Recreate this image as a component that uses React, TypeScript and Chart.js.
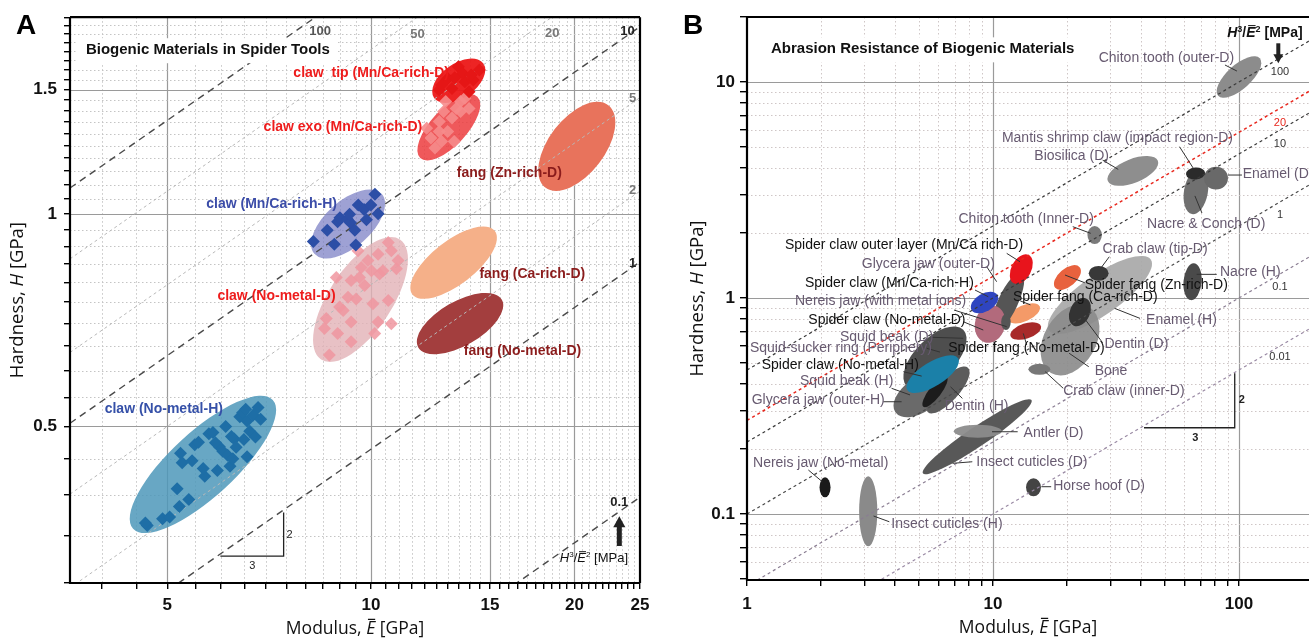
import { useEffect, useRef } from 'react';
import { Chart, registerables } from 'chart.js';

Chart.register(...registerables);

type Pt = [number, number];
type Ell = { p1: Pt; p2: Pt; r: number; color: string };
type Lbl = { text: string; at: Pt; color: string };
type Seg = { t: string; it?: boolean; sup?: boolean; bar?: boolean };

const SANS = "'Liberation Sans', Arial, sans-serif";
const OPEN = "'Open Sans', 'Liberation Sans', sans-serif";

// ================= Panel A : Biogenic Materials in Spider Tools =================
const A_X_RANGE: Pt = [3.59, 25];
const A_Y_RANGE: Pt = [0.3, 1.9];
const A_X_TICKS = [4, 4.5, 5, 5.5, 6, 6.5, 7, 7.5, 8, 8.5, 9, 9.5, 10, 10.5, 11, 11.5, 12, 12.5, 13, 13.5, 14, 14.5, 15, 15.5, 16, 16.5, 17, 17.5, 18, 18.5, 19, 19.5, 20, 20.5, 21, 21.5, 22, 22.5, 23, 23.5, 24, 24.5, 25];
const A_X_LABELED = [5, 10, 15, 20, 25];
const A_X_GRID_MAJOR = [5, 10, 15, 20];
const A_Y_TICKS = [0.3, 0.35, 0.4, 0.45, 0.5, 0.55, 0.6, 0.65, 0.7, 0.75, 0.8, 0.85, 0.9, 0.95, 1, 1.05, 1.1, 1.15, 1.2, 1.25, 1.3, 1.35, 1.4, 1.45, 1.5, 1.55, 1.6, 1.65, 1.7, 1.75, 1.8, 1.85, 1.9];
const A_Y_LABELED = [0.5, 1, 1.5];
const A_Y_GRID_MAJOR = [0.5, 1, 1.5];
const A_ISO = [100, 50, 20, 10, 5, 2, 1, 0.1]; // H^3/E^2 [MPa]
const A_ISO_DARK = [100, 10, 1, 0.1];

const A_clawTip: Pt[] = [[12.62, 1.498], [13.18, 1.506], [13.47, 1.616], [13.77, 1.539], [13.97, 1.49], [14.17, 1.548], [14.47, 1.599], [12.99, 1.556], [12.72, 1.523], [13.67, 1.581], [14.07, 1.573], [13.3, 1.56]];
const A_clawExo: Pt[] = [[12.09, 1.323], [12.27, 1.281], [12.62, 1.352], [12.81, 1.397], [12.9, 1.443], [13.18, 1.367], [13.37, 1.411], [13.57, 1.443], [13.77, 1.458], [13.97, 1.411], [12.44, 1.24], [12.99, 1.309], [13.28, 1.267], [12.72, 1.267], [13.57, 1.397], [12.62, 1.309]];
const A_clawMnH: Pt[] = [[8.22, 0.914], [8.62, 0.948], [8.83, 0.906], [8.93, 0.975], [9.0, 0.988], [9.23, 0.983], [9.33, 0.972], [9.47, 0.948], [9.5, 0.904], [9.58, 1.03], [9.77, 1.015], [9.85, 0.981], [10.0, 1.03], [10.14, 1.066], [10.25, 1.001], [9.3, 0.999]];
const A_clawNoMetalD: Pt[] = [[8.68, 0.631], [8.93, 0.677], [8.54, 0.688], [8.59, 0.711], [9.35, 0.703], [9.35, 0.659], [8.99, 0.738], [9.51, 0.758], [8.89, 0.813], [9.35, 0.805], [9.79, 0.792], [9.62, 0.813], [10.07, 0.746], [10.61, 0.754], [10.25, 0.703], [10.72, 0.699], [10.13, 0.677], [10.42, 0.831], [10.91, 0.836], [10.97, 0.859], [9.9, 0.859], [10.25, 0.877], [10.72, 0.887], [10.61, 0.911], [10.02, 0.831], [9.68, 0.84], [9.25, 0.762], [10.3, 0.822], [9.1, 0.73], [9.57, 0.887]];
const A_clawNoMetalH: Pt[] = [[4.67, 0.362], [4.64, 0.365], [4.92, 0.37], [5.04, 0.372], [5.17, 0.408], [5.38, 0.394], [5.21, 0.385], [5.23, 0.458], [5.26, 0.444], [5.44, 0.447], [5.49, 0.471], [5.56, 0.475], [5.68, 0.425], [5.65, 0.436], [5.76, 0.488], [5.84, 0.49], [5.93, 0.433], [5.97, 0.468], [6.04, 0.461], [6.1, 0.5], [6.14, 0.455], [6.19, 0.439], [6.25, 0.45], [6.28, 0.48], [6.32, 0.467], [6.4, 0.516], [6.46, 0.523], [6.53, 0.529], [6.56, 0.509], [6.62, 0.492], [6.7, 0.519], [6.75, 0.483], [6.81, 0.532], [6.87, 0.512], [6.56, 0.453], [5.89, 0.474], [6.22, 0.484], [6.49, 0.479]];

const A_ELLIPSES: Ell[] = [
  { p1: [18.11, 1.09], p2: [22.44, 1.426], r: 0.54, color: '#e8735c' },
  { p1: [11.52, 0.769], p2: [15.25, 0.946], r: 0.42, color: '#f5b089' },
  { p1: [11.75, 0.647], p2: [15.62, 0.756], r: 0.46, color: '#a33e3e' },
  { p1: [4.45, 0.358], p2: [7.16, 0.545], r: 0.34, color: 'rgba(78,152,186,0.85)' },
  { p1: [8.44, 0.622], p2: [11.04, 0.92], r: 0.44, color: 'rgba(226,178,182,0.8)' },
  { p1: [8.25, 0.878], p2: [10.38, 1.067], r: 0.51, color: 'rgba(120,125,196,0.72)' },
  { p1: [11.83, 1.2], p2: [14.37, 1.466], r: 0.43, color: 'rgba(236,60,62,0.85)' },
  { p1: [12.4, 1.46], p2: [14.67, 1.633], r: 0.57, color: 'rgba(236,24,24,0.95)' },
];

const A_LABELS: Lbl[] = [
  { text: 'claw  tip (Mn/Ca-rich-D)', at: [7.68, 1.585], color: '#ee1c1c' },
  { text: 'claw exo (Mn/Ca-rich-D)', at: [6.94, 1.326], color: '#ee1c1c' },
  { text: 'fang (Zn-rich-D)', at: [13.4, 1.142], color: '#8b1c1c' },
  { text: 'claw (Mn/Ca-rich-H)', at: [5.71, 1.033], color: '#3b4ca8' },
  { text: 'fang (Ca-rich-D)', at: [14.47, 0.823], color: '#8b1c1c' },
  { text: 'claw (No-metal-D)', at: [5.93, 0.764], color: '#ee1c1c' },
  { text: 'fang (No-metal-D)', at: [13.72, 0.639], color: '#8b1c1c' },
  { text: 'claw (No-metal-H)', at: [4.04, 0.529], color: '#3550a8' },
];
const A_ISO_LABELS: Lbl[] = [
  { text: '100', at: [8.41, 1.816], color: '#555' },
  { text: '50', at: [11.72, 1.799], color: '#777' },
  { text: '20', at: [18.54, 1.805], color: '#777' },
  { text: '10', at: [23.96, 1.811], color: '#222' },
  { text: '5', at: [24.37, 1.457], color: '#777' },
  { text: '2', at: [24.37, 1.081], color: '#777' },
  { text: '1', at: [24.37, 0.85], color: '#222' },
  { text: '0.1', at: [23.3, 0.39], color: '#222' },
];
const A_SLOPE: Pt[] = [[5.99, 0.3274], [7.43, 0.3274], [7.43, 0.3776]];
const A_SLOPE_TEXT: Lbl[] = [{ text: '2', at: [7.58, 0.3508], color: '#222' }, { text: '3', at: [6.68, 0.3176], color: '#222' }];
const A_ARROW: [Pt, Pt] = [[23.3, 0.3385], [23.3, 0.373]];
const A_UNIT_AT: Pt = [19.03, 0.3246];
const A_TITLE: Lbl = { text: 'Biogenic Materials in Spider Tools', at: [3.79, 1.706], color: '#111' };

// ================= Panel B : Abrasion Resistance of Biogenic Materials =================
const B_X_RANGE: Pt = [1, 192.6];
const B_Y_RANGE: Pt = [0.0495, 20];
const B_X_TICKS = [1, 2, 3, 4, 5, 6, 7, 8, 9, 10, 20, 30, 40, 50, 60, 70, 80, 90, 100];
const B_X_LABELED = [1, 10, 100];
const B_X_GRID_MAJOR = [10, 100];
const B_Y_TICKS = [0.05, 0.06, 0.07, 0.08, 0.09, 0.1, 0.2, 0.3, 0.4, 0.5, 0.6, 0.7, 0.8, 0.9, 1, 2, 3, 4, 5, 6, 7, 8, 9, 10, 20];
const B_Y_LABELED = [0.1, 1, 10];
const B_Y_GRID_MAJOR = [0.1, 1, 10];
const B_ISO = [100, 20, 10, 1, 0.1, 0.01]; // H^3/E^2 [MPa]
const B_ISO_COLORS = ['#3a3a3a', '#e8281e', '#3a3a3a', '#4a4a4a', '#8a7d92', '#9a8aa4'];

const P = '#675a70';
const K = '#111111';

const B_ELLIPSES: Ell[] = [
  { p1: [16.9, 0.707], p2: [43.8, 1.509], r: 0.32, color: 'rgba(168,168,168,0.92)' }, // Enamel (H)
  { p1: [17.2, 0.45], p2: [24.6, 0.908], r: 0.68, color: 'rgba(140,140,140,0.92)' }, // Bone
  { p1: [21.3, 0.745], p2: [23.9, 0.996], r: 0.67, color: '#333333' }, // Dentin (D)
  { p1: [24.5, 1.301], p2: [29.5, 1.301], r: 0.75, color: '#383838' }, // Crab claw (tip)
  { p1: [17.9, 1.115], p2: [22.5, 1.389], r: 0.56, color: '#e8623e' }, // Spider fang Zn
  { p1: [25.9, 1.778], p2: [25.9, 2.154], r: 0.8, color: '#7a7a7a' }, // Chiton tooth inner
  { p1: [11.59, 0.787], p2: [15.47, 0.917], r: 0.47, color: '#f49a68' }, // Spider fang Ca
  { p1: [11.78, 0.668], p2: [15.66, 0.741], r: 0.47, color: '#a82a2a' }, // Spider fang no-metal
  { p1: [13.93, 0.468], p2: [17.1, 0.468], r: 0.5, color: '#777777' }, // Crab claw inner
  { p1: [5.19, 0.1543], p2: [14.34, 0.337], r: 0.15, color: '#585858' }, // Insect cuticles D
  { p1: [6.93, 0.2416], p2: [10.86, 0.2416], r: 0.27, color: 'rgba(140,140,140,0.95)' }, // Antler
  { p1: [4.46, 0.39], p2: [7.57, 0.713], r: 0.5, color: '#4e4e4e' }, // Squid sucker ring
  { p1: [4.01, 0.296], p2: [6.36, 0.427], r: 0.57, color: '#6a6a6a' }, // Glycera jaw outer-H
  { p1: [5.44, 0.296], p2: [7.91, 0.476], r: 0.37, color: '#5c5c5c' }, // Dentin (H)
  { p1: [5.21, 0.314], p2: [6.48, 0.432], r: 0.32, color: '#1c1c1c' }, // Squid beak (H)
  { p1: [4.48, 0.375], p2: [7.21, 0.526], r: 0.4, color: '#1b80a8' }, // Spider claw no-metal-H
  { p1: [10.14, 0.703], p2: [13.06, 1.305], r: 0.31, color: '#555555' }, // Glycera jaw outer-D
  { p1: [9.29, 0.623], p2: [10.18, 0.922], r: 0.79, color: '#b26a7c' }, // Spider claw no-metal-D
  { p1: [11.29, 0.711], p2: [11.29, 0.843], r: 0.6, color: '#555555' }, // Nereis jaw metal
  { p1: [8.18, 0.88], p2: [10.43, 1.032], r: 0.6, color: '#2f45c0' }, // Spider claw Mn/Ca-H
  { p1: [12.15, 1.17], p2: [13.98, 1.58], r: 0.62, color: '#e8141c' }, // Spider claw outer layer
  { p1: [29.3, 3.48], p2: [46.8, 4.32], r: 0.44, color: '#8e8e8e' }, // Biosilica
  { p1: [64.4, 2.446], p2: [69.4, 3.96], r: 0.52, color: '#707070' }, // Nacre & Conch
  { p1: [72.1, 3.59], p2: [90.2, 3.59], r: 0.95, color: '#696969' }, // Enamel (D)
  { p1: [60.9, 3.74], p2: [72.8, 3.8], r: 0.63, color: '#2b2b2b' }, // Mantis shrimp
  { p1: [82.3, 8.64], p2: [121.5, 12.88], r: 0.43, color: '#8c8c8c' }, // Chiton tooth outer
  { p1: [63.8, 0.978], p2: [65.7, 1.447], r: 0.49, color: '#4a4a4a' }, // Nacre (H)
  { p1: [2.076, 0.1195], p2: [2.076, 0.1479], r: 0.55, color: '#1a1a1a' }, // Nereis no-metal
  { p1: [3.11, 0.0709], p2: [3.11, 0.1494], r: 0.26, color: '#8a8a8a' }, // Insect cuticles H
  { p1: [14.61, 0.1208], p2: [14.61, 0.1463], r: 0.83, color: '#444444' }, // Horse hoof
];

const B_LABELS: Lbl[] = [
  { text: 'Chiton tooth (outer-D)', at: [26.9, 12.91], color: P },
  { text: 'Mantis shrimp claw (impact region-D)', at: [10.87, 5.5], color: P },
  { text: 'Biosilica (D)', at: [14.72, 4.56], color: P },
  { text: 'Enamel (D)', at: [103.5, 3.75], color: P },
  { text: 'Nacre & Conch (D)', at: [42.3, 2.2], color: P },
  { text: 'Chiton tooth (Inner-D)', at: [7.24, 2.33], color: P },
  { text: 'Spider claw outer layer (Mn/Ca rich-D)', at: [1.427, 1.76], color: K },
  { text: 'Glycera jaw (outer-D)', at: [2.93, 1.437], color: P },
  { text: 'Spider claw (Mn/Ca-rich-H)', at: [1.721, 1.17], color: K },
  { text: 'Nereis jaw (with metal ions)', at: [1.567, 0.972], color: P },
  { text: 'Spider claw (No-metal-D)', at: [1.775, 0.791], color: K },
  { text: 'Squid beak (D)', at: [2.388, 0.662], color: P },
  { text: 'Squid-sucker ring (Periphery)', at: [1.028, 0.589], color: P },
  { text: 'Spider fang (No-metal-D)', at: [6.58, 0.585], color: K },
  { text: 'Spider claw (No-metal-H)', at: [1.148, 0.49], color: K },
  { text: 'Squid beak (H)', at: [1.642, 0.413], color: P },
  { text: 'Glycera jaw (outer-H)', at: [1.045, 0.337], color: P },
  { text: 'Dentin (H)', at: [6.36, 0.316], color: P },
  { text: 'Spider fang (Ca-rich-D)', at: [12.05, 1.014], color: K },
  { text: 'Spider fang (Zn-rich-D)', at: [23.6, 1.149], color: K },
  { text: 'Crab claw (tip-D)', at: [27.9, 1.681], color: P },
  { text: 'Nacre (H)', at: [83.7, 1.324], color: P },
  { text: 'Enamel (H)', at: [41.9, 0.791], color: P },
  { text: 'Dentin (D)', at: [28.4, 0.61], color: P },
  { text: 'Bone', at: [25.9, 0.461], color: P },
  { text: 'Crab claw (inner-D)', at: [19.3, 0.372], color: P },
  { text: 'Antler (D)', at: [13.32, 0.238], color: P },
  { text: 'Insect cuticles (D)', at: [8.55, 0.1746], color: P },
  { text: 'Nereis jaw (No-metal)', at: [1.058, 0.1717], color: P },
  { text: 'Insect cuticles (H)', at: [3.86, 0.0899], color: P },
  { text: 'Horse hoof (D)', at: [17.57, 0.1352], color: P },
];

const B_LEADERS: [Pt, Pt][] = [
  [[87.7, 11.99], [98.1, 11.24]], [[57.3, 5.02], [65.2, 3.99]], [[27.9, 4.35], [32.3, 3.94]],
  [[90.2, 3.71], [102.8, 3.71]], [[66.2, 2.97], [70.7, 2.475]], [[21.1, 2.14], [24.96, 1.993]],
  [[11.37, 1.61], [12.88, 1.472]], [[9.43, 1.396], [10.35, 1.19]], [[8.45, 1.089], [9.57, 1.014]],
  [[6.94, 0.88], [11.37, 0.737]], [[7.57, 0.777], [9.13, 0.711]], [[5.63, 0.658], [7.57, 0.651]],
  [[5.38, 0.585], [6.09, 0.562]], [[13.28, 0.686], [13.71, 0.606]], [[4.32, 0.456], [5.13, 0.435]],
  [[3.87, 0.382], [4.6, 0.356]], [[3.58, 0.331], [4.25, 0.331]], [[7.51, 0.343], [6.72, 0.388]],
  [[19.62, 1.278], [23.6, 1.177]], [[29.7, 1.553], [27.4, 1.372]], [[67.3, 1.287], [81.2, 1.287]],
  [[39.6, 0.805], [31.2, 0.896]], [[27.9, 0.621], [22.7, 0.85]], [[24.5, 0.481], [20.4, 0.555]],
  [[19.3, 0.382], [16.3, 0.456]], [[12.6, 0.2404], [9.91, 0.2404]], [[8.24, 0.1746], [6.85, 0.1717]],
  [[1.776, 0.1599], [2.024, 0.1411]], [[3.79, 0.0921], [3.27, 0.0979]], [[17.24, 0.1338], [15.73, 0.1338]],
  [[14.2, 0.93], [12.9, 0.97]],
];
const B_ISO_LABELS: Lbl[] = [
  { text: '100', at: [146.8, 11.16], color: '#333' },
  { text: '20', at: [146.8, 6.48], color: '#e8281e' },
  { text: '10', at: [146.8, 5.16], color: '#333' },
  { text: '1', at: [146.8, 2.42], color: '#333' },
  { text: '0.1', at: [146.8, 1.128], color: '#333' },
  { text: '0.01', at: [146.8, 0.531], color: '#333' },
];
const B_SLOPE: Pt[] = [[41.1, 0.2509], [96.1, 0.2509], [96.1, 0.448]];
const B_SLOPE_TEXT: Lbl[] = [{ text: '2', at: [102.8, 0.337], color: '#222' }, { text: '3', at: [66.4, 0.2241], color: '#222' }];
const B_ARROW: [Pt, Pt] = [[144.5, 15.11], [144.5, 12.21]];
const B_UNIT_AT: Pt = [89.6, 16.81];
const B_TITLE: Lbl = { text: 'Abrasion Resistance of Biogenic Materials', at: [1.252, 14.17], color: '#111' };

// ================= drawing helpers =================
const px = (c: any, p: Pt) => [c.scales.x.getPixelForValue(p[0]), c.scales.y.getPixelForValue(p[1])];

function drawRich(ctx: CanvasRenderingContext2D, segs: Seg[], x: number, y: number, size: number, family: string, weight: string, align: string, color: string) {
  const fontOf = (s: Seg) => `${s.it ? 'italic ' : ''}${weight} ${s.sup ? Math.round(size * 0.62) : size}px ${family}`;
  let total = 0;
  const ws = segs.map((s) => { ctx.font = fontOf(s); const w = ctx.measureText(s.t).width; total += w; return w; });
  let cx = align === 'center' ? x - total / 2 : x;
  ctx.fillStyle = color; ctx.strokeStyle = color; ctx.textAlign = 'left'; ctx.textBaseline = 'middle';
  segs.forEach((s, i) => {
    ctx.font = fontOf(s);
    ctx.fillText(s.t, cx, s.sup ? y - size * 0.3 : y);
    if (s.bar) {
      ctx.lineWidth = Math.max(1, size / 14);
      ctx.beginPath();
      ctx.moveTo(cx + ws[i] * 0.2, y - size * 0.55);
      ctx.lineTo(cx + ws[i] * 1.0, y - size * 0.55);
      ctx.stroke();
    }
    cx += ws[i];
  });
}

function drawArrow(ctx: CanvasRenderingContext2D, x1: number, y1: number, x2: number, y2: number, shaft: number, head: number, color: string) {
  const ang = Math.atan2(y2 - y1, x2 - x1);
  const len = Math.hypot(x2 - x1, y2 - y1);
  ctx.save();
  ctx.translate(x1, y1); ctx.rotate(ang); ctx.fillStyle = color;
  ctx.fillRect(0, -shaft / 2, len - head + 1, shaft);
  ctx.beginPath(); ctx.moveTo(len, 0); ctx.lineTo(len - head, -head * 0.55); ctx.lineTo(len - head, head * 0.55); ctx.closePath(); ctx.fill();
  ctx.restore();
}

interface PanelDef {
  xRange: Pt; yRange: Pt;
  xTicks: number[]; xLabeled: number[]; xGridMajor: number[];
  yTicks: number[]; yLabeled: number[]; yGridMajor: number[];
  minorColor: string; majorColor: string;
  ellipses: Ell[]; leaders: [Pt, Pt][];
  labels: Lbl[]; labelFont: string;
  isoLabels: Lbl[]; isoFont: string;
  slope: Pt[]; slopeText: Lbl[]; slopeFont: string;
  arrow: [Pt, Pt]; arrowShaft: number; arrowHead: number;
  unitAt: Pt; unitSize: number; unitWeight: string; unitFamily: string;
  title: Lbl; titleFont: string;
  letter: string; letterPos: [number, number];
  yTitleX: number; xTitleY: number;
  rightBorder: boolean;
  padding: any; yAxisWidth: number; xAxisHeight: number;
  yTickLen: number; yTickPad: number; xTickLen: number; xTickPad: number;
  datasets: any[];
}

function overlay(d: PanelDef) {
  return {
    id: 'overlay',
    beforeDatasetsDraw(c: any) {
      const ctx: CanvasRenderingContext2D = c.ctx; const a = c.chartArea;
      ctx.save();
      ctx.beginPath(); ctx.rect(a.left, a.top, a.right - a.left, a.bottom - a.top); ctx.clip();
      d.xTicks.forEach((v) => {
        const x = Math.round(c.scales.x.getPixelForValue(v)) + 0.5;
        if (x <= a.left + 1 || x >= a.right - 1) return;
        const maj = d.xGridMajor.includes(v);
        ctx.beginPath(); ctx.setLineDash(maj ? [] : [1.5, 2.5]);
        ctx.strokeStyle = maj ? d.majorColor : d.minorColor; ctx.lineWidth = maj ? 1.2 : 1;
        ctx.moveTo(x, a.top); ctx.lineTo(x, a.bottom); ctx.stroke();
      });
      d.yTicks.forEach((v) => {
        const y = Math.round(c.scales.y.getPixelForValue(v)) + 0.5;
        if (y <= a.top + 1 || y >= a.bottom - 1) return;
        const maj = d.yGridMajor.includes(v);
        ctx.beginPath(); ctx.setLineDash(maj ? [] : [1.5, 2.5]);
        ctx.strokeStyle = maj ? d.majorColor : d.minorColor; ctx.lineWidth = maj ? 1.2 : 1;
        ctx.moveTo(a.left, y); ctx.lineTo(a.right, y); ctx.stroke();
      });
      ctx.setLineDash([]);
      d.ellipses.forEach((e) => {
        const [x1, y1] = px(c, e.p1); const [x2, y2] = px(c, e.p2);
        const ra = Math.hypot(x2 - x1, y2 - y1) / 2;
        ctx.beginPath();
        ctx.ellipse((x1 + x2) / 2, (y1 + y2) / 2, ra, ra * e.r, Math.atan2(y2 - y1, x2 - x1), 0, Math.PI * 2);
        ctx.fillStyle = e.color; ctx.fill();
      });
      ctx.restore();
    },
    afterDatasetsDraw(c: any) {
      const ctx: CanvasRenderingContext2D = c.ctx;
      ctx.save();
      ctx.strokeStyle = '#333'; ctx.lineWidth = 1;
      d.leaders.forEach(([p, q]) => {
        const [x1, y1] = px(c, p); const [x2, y2] = px(c, q);
        ctx.beginPath(); ctx.moveTo(x1, y1); ctx.lineTo(x2, y2); ctx.stroke();
      });
      {
        const [tx, ty] = px(c, d.title.at);
        ctx.font = d.titleFont;
        const w = ctx.measureText(d.title.text).width;
        ctx.fillStyle = '#fff';
        ctx.fillRect(tx - 10, ty - 12, w + 18, 25);
        ctx.fillStyle = d.title.color; ctx.textAlign = 'left'; ctx.textBaseline = 'middle';
        ctx.fillText(d.title.text, tx, ty);
      }
      ctx.textAlign = 'left'; ctx.textBaseline = 'middle'; ctx.font = d.labelFont;
      d.labels.forEach((l) => { const [x, y] = px(c, l.at); ctx.fillStyle = l.color; ctx.fillText(l.text, x, y); });
      ctx.textAlign = 'center'; ctx.font = d.isoFont;
      d.isoLabels.forEach((l) => { const [x, y] = px(c, l.at); ctx.fillStyle = l.color; ctx.fillText(l.text, x, y); });
      ctx.strokeStyle = '#222'; ctx.lineWidth = 1.3; ctx.beginPath();
      d.slope.forEach((p, i) => { const [x, y] = px(c, p); if (i === 0) ctx.moveTo(x, y); else ctx.lineTo(x, y); });
      ctx.stroke();
      ctx.font = d.slopeFont;
      d.slopeText.forEach((l) => { const [x, y] = px(c, l.at); ctx.fillStyle = l.color; ctx.fillText(l.text, x, y); });
      const [ax1, ay1] = px(c, d.arrow[0]); const [ax2, ay2] = px(c, d.arrow[1]);
      drawArrow(ctx, ax1, ay1, ax2, ay2, d.arrowShaft, d.arrowHead, '#222');
      const [ux, uy] = px(c, d.unitAt);
      drawRich(ctx, [{ t: 'H', it: true }, { t: '3', sup: true }, { t: '/' }, { t: 'E', it: true, bar: true }, { t: '2', sup: true }, { t: ' [MPa]' }], ux, uy, d.unitSize, d.unitFamily, d.unitWeight, 'left', '#111');
      ctx.restore();
    },
    afterDraw(c: any) {
      const ctx: CanvasRenderingContext2D = c.ctx; const a = c.chartArea;
      ctx.save();
      ctx.strokeStyle = '#000'; ctx.lineWidth = 2.2; ctx.beginPath();
      ctx.moveTo(a.left, a.top); ctx.lineTo(a.left, a.bottom); ctx.lineTo(a.right, a.bottom);
      ctx.moveTo(a.left, a.top); ctx.lineTo(a.right, a.top);
      if (d.rightBorder) { ctx.moveTo(a.right, a.top); ctx.lineTo(a.right, a.bottom); }
      ctx.stroke();
      drawRich(ctx, [{ t: 'Modulus, ' }, { t: 'E', it: true, bar: true }, { t: ' [GPa]' }], (a.left + a.right) / 2, d.xTitleY, 17.5, OPEN, 'normal', 'center', '#111');
      ctx.save();
      ctx.translate(d.yTitleX, (a.top + a.bottom) / 2); ctx.rotate(-Math.PI / 2);
      drawRich(ctx, [{ t: 'Hardness, ' }, { t: 'H', it: true }, { t: ' [GPa]' }], 0, 0, 18.5, OPEN, 'normal', 'center', '#111');
      ctx.restore();
      ctx.font = `bold 28px ${SANS}`; ctx.fillStyle = '#000'; ctx.textAlign = 'center'; ctx.textBaseline = 'middle';
      ctx.fillText(d.letter, d.letterPos[0], d.letterPos[1]);
      ctx.restore();
    },
  };
}

function axis(pos: string, range: Pt, ticks: number[], labeled: number[], fit: number, tickLen: number, pad: number) {
  return {
    type: 'logarithmic', position: pos, min: range[0], max: range[1], bounds: 'data',
    afterBuildTicks: (s: any) => { s.ticks = ticks.map((v) => ({ value: v })); },
    afterFit: (s: any) => { if (pos === 'left') s.width = fit; else s.height = fit; },
    grid: { display: true, drawOnChartArea: false, drawTicks: true, tickLength: tickLen, color: '#000', lineWidth: 1.4 },
    border: { display: false },
    ticks: {
      autoSkip: false, maxRotation: 0, minRotation: 0, padding: pad, color: '#111',
      font: { family: SANS, size: 17, weight: 'bold' },
      callback: (v: number) => (labeled.includes(v) ? String(v) : ''),
    },
    title: { display: false },
  };
}

const scatterSet = (pts: Pt[], color: string, radius: number) => ({
  data: pts.map(([x, y]) => ({ x, y })), pointStyle: 'rectRot', pointRadius: radius,
  backgroundColor: color, borderWidth: 0, showLine: false,
});

// iso-lines H^3/E^2 = const, straight lines in log-log space spanning the axis range
const isoSet = (mpa: number, range: Pt, color: string, width: number, dash: number[]) => ({
  data: range.map((e) => ({ x: e, y: Math.cbrt((mpa / 1000) * e * e) })),
  showLine: true, pointRadius: 0, borderColor: color, borderWidth: width, borderDash: dash, fill: false,
});

const PANEL_A: PanelDef = {
  xRange: A_X_RANGE, yRange: A_Y_RANGE,
  xTicks: A_X_TICKS, xLabeled: A_X_LABELED, xGridMajor: A_X_GRID_MAJOR,
  yTicks: A_Y_TICKS, yLabeled: A_Y_LABELED, yGridMajor: A_Y_GRID_MAJOR,
  minorColor: '#c4c4c4', majorColor: '#9a9a9a',
  ellipses: A_ELLIPSES, leaders: [],
  labels: A_LABELS, labelFont: `bold 14px ${SANS}`,
  isoLabels: A_ISO_LABELS, isoFont: `bold 13px ${SANS}`,
  slope: A_SLOPE, slopeText: A_SLOPE_TEXT, slopeFont: `11px ${SANS}`,
  arrow: A_ARROW, arrowShaft: 5, arrowHead: 11,
  unitAt: A_UNIT_AT, unitSize: 13, unitWeight: 'normal', unitFamily: SANS,
  title: A_TITLE, titleFont: `bold 15px ${SANS}`,
  letter: 'A', letterPos: [26, 26],
  yTitleX: 18, xTitleY: 629, rightBorder: true,
  padding: { top: 15, right: 20, left: 0, bottom: 0 }, yAxisWidth: 70, xAxisHeight: 56,
  yTickLen: 6, yTickPad: 7, xTickLen: 6, xTickPad: 6,
  datasets: [
    scatterSet(A_clawTip, '#e51616', 6.5),
    scatterSet(A_clawExo, 'rgba(246,140,140,0.9)', 6.5),
    scatterSet(A_clawMnH, '#2c4ea6', 6.5),
    scatterSet(A_clawNoMetalD, 'rgba(240,150,160,0.85)', 6.5),
    scatterSet(A_clawNoMetalH, '#1e6ea6', 6.5),
    ...A_ISO.map((v) => (A_ISO_DARK.includes(v)
      ? isoSet(v, A_X_RANGE, '#4a4a4a', 1.4, [7, 5])
      : isoSet(v, A_X_RANGE, '#b8b8b8', 1, [3, 3]))),
  ],
};

const PANEL_B: PanelDef = {
  xRange: B_X_RANGE, yRange: B_Y_RANGE,
  xTicks: B_X_TICKS, xLabeled: B_X_LABELED, xGridMajor: B_X_GRID_MAJOR,
  yTicks: B_Y_TICKS, yLabeled: B_Y_LABELED, yGridMajor: B_Y_GRID_MAJOR,
  minorColor: '#cfc6c6', majorColor: '#9a9a9a',
  ellipses: B_ELLIPSES, leaders: B_LEADERS,
  labels: B_LABELS, labelFont: `14px ${SANS}`,
  isoLabels: B_ISO_LABELS, isoFont: `11px ${SANS}`,
  slope: B_SLOPE, slopeText: B_SLOPE_TEXT, slopeFont: `bold 11px ${SANS}`,
  arrow: B_ARROW, arrowShaft: 4, arrowHead: 9,
  unitAt: B_UNIT_AT, unitSize: 14, unitWeight: 'bold', unitFamily: SANS,
  title: B_TITLE, titleFont: `bold 15px ${SANS}`,
  letter: 'B', letterPos: [33, 26],
  yTitleX: 38, xTitleY: 628, rightBorder: false,
  padding: { top: 17, right: 0, left: 0, bottom: 0 }, yAxisWidth: 87, xAxisHeight: 59,
  yTickLen: 7, yTickPad: 5, xTickLen: 6, xTickPad: 8,
  datasets: [
    ...B_ISO.map((v, i) => isoSet(v, B_X_RANGE, B_ISO_COLORS[i], i === 1 ? 1.5 : 1.2, [3, 3])),
  ],
};

function buildConfig(d: PanelDef): any {
  return {
    type: 'scatter',
    data: { datasets: d.datasets },
    options: {
      animation: false, responsive: false, events: [],
      layout: { padding: d.padding },
      plugins: { legend: { display: false }, tooltip: { enabled: false }, title: { display: false } },
      scales: {
        x: axis('bottom', d.xRange, d.xTicks, d.xLabeled, d.xAxisHeight, d.xTickLen, d.xTickPad),
        y: axis('left', d.yRange, d.yTicks, d.yLabeled, d.yAxisWidth, d.yTickLen, d.yTickPad),
      },
    },
    plugins: [overlay(d)],
  };
}

export default function App() {
  const refA = useRef<HTMLCanvasElement>(null);
  const refB = useRef<HTMLCanvasElement>(null);
  useEffect(() => {
    const ca = new Chart(refA.current as HTMLCanvasElement, buildConfig(PANEL_A));
    const cb = new Chart(refB.current as HTMLCanvasElement, buildConfig(PANEL_B));
    return () => { ca.destroy(); cb.destroy(); };
  }, []);
  return (
    <div style={{ position: 'absolute', left: 0, top: 0, width: 1309, height: 639, overflow: 'hidden', background: '#fff' }}>
      <canvas ref={refA} width={660} height={639} style={{ position: 'absolute', left: 0, top: 0 }} />
      <canvas ref={refB} width={649} height={639} style={{ position: 'absolute', left: 660, top: 0 }} />
    </div>
  );
}
